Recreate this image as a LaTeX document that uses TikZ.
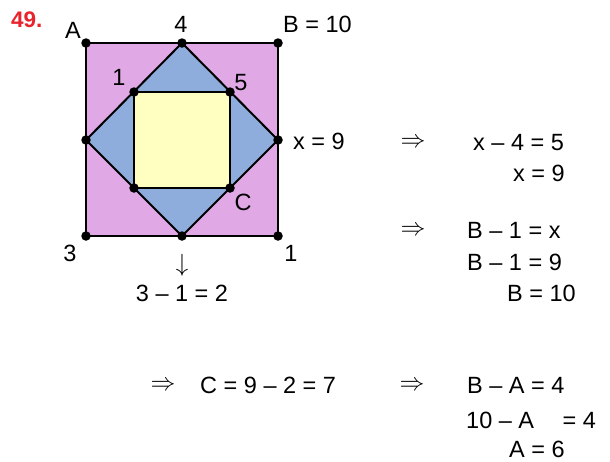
\documentclass[tikz,border=0pt]{standalone}
\usepackage{fontspec}
\setmainfont{Liberation Sans}
\begin{document}
\begin{tikzpicture}[x=1pt,y=-1pt,
  txt/.style={inner sep=0pt,anchor=base west,font=\fontsize{23.5}{26}\selectfont},
  ctxt/.style={inner sep=0pt,anchor=base,font=\fontsize{23.5}{26}\selectfont},
  sym/.style={inner sep=0pt,font=\fontsize{24}{26}\selectfont},
  dot/.style={circle,fill=black,inner sep=0pt,minimum size=9.5pt},
  edge/.style={line width=2pt,line join=round}]
\useasboundingbox (0,0) rectangle (610,461);
\definecolor{pinkfill}{HTML}{E0A9E6}
\definecolor{bluefill}{HTML}{8FADDC}
\definecolor{yelfill}{HTML}{FFFFC2}
\definecolor{numred}{HTML}{E8232B}
% corners and points
\coordinate (A) at (86,43);
\coordinate (B) at (278,43);
\coordinate (BR) at (278,236);
\coordinate (BL) at (86,236);
\coordinate (T) at (182,43);
\coordinate (R) at (278,140);
\coordinate (D) at (182,236);
\coordinate (L) at (86,140);
\coordinate (I1) at (134,92);
\coordinate (I2) at (230,92);
\coordinate (I3) at (230,188);
\coordinate (I4) at (134,188);
\fill[pinkfill] (A) -- (B) -- (BR) -- (BL) -- cycle;
\fill[bluefill] (T) -- (R) -- (D) -- (L) -- cycle;
\fill[yelfill] (I1) -- (I2) -- (I3) -- (I4) -- cycle;
\draw[edge] (A) -- (B) -- (BR) -- (BL) -- cycle;
\draw[edge] (T) -- (R) -- (D) -- (L) -- cycle;
\draw[edge] (I1) -- (I2) -- (I3) -- (I4) -- cycle;
\foreach \p in {A,B,BR,BL,T,R,D,L,I1,I2,I3,I4}
  \node[dot] (d\p) at (\p) {};
% labels
\node[inner sep=0pt,anchor=base west,text=numred,font=\fontsize{22.5}{24}\selectfont\bfseries] (num) at (11,27) {49.};
\node[ctxt] (lA) at (73,38) {A};
\node[ctxt] (l4) at (181,32) {4};
\node[txt] (lB) at (283,32) {B = 10};
\node[ctxt] (l1) at (119,85) {1};
\node[ctxt] (l5) at (241,90) {5};
\node[txt] (lx) at (293,149) {x = 9};
\node[ctxt] (lC) at (243,210) {C};
\node[ctxt] (l3) at (70,261) {3};
\node[ctxt] (l1b) at (291,261) {1};
\node[sym] (arr) at (182,265) {$\downarrow$};
\node[ctxt] (eq0) at (182,301) {3 – 1 = 2};
% right side
\node[sym] (r1) at (413,143) {$\Rightarrow$};
\node[txt] (e1) at (473,150) {x – 4 = 5};
\node[txt] (e2) at (513,181) {x = 9};
\node[sym] (r2) at (413,231) {$\Rightarrow$};
\node[txt] (e3) at (467,238) {B – 1 = x};
\node[txt] (e4) at (467,270) {B – 1 = 9};
\node[txt] (e5) at (507,301) {B = 10};
\node[sym] (r3) at (163,386) {$\Rightarrow$};
\node[txt] (e6) at (200,393) {C = 9 – 2 = 7};
\node[sym] (r4) at (412,386) {$\Rightarrow$};
\node[txt] (e7) at (467,393) {B – A = 4};
\node[txt] (e8) at (466,428) {10 – A\hspace{22pt} = 4};
\node[txt] (e9) at (509,457) {A = 6};
\end{tikzpicture}
\end{document}
